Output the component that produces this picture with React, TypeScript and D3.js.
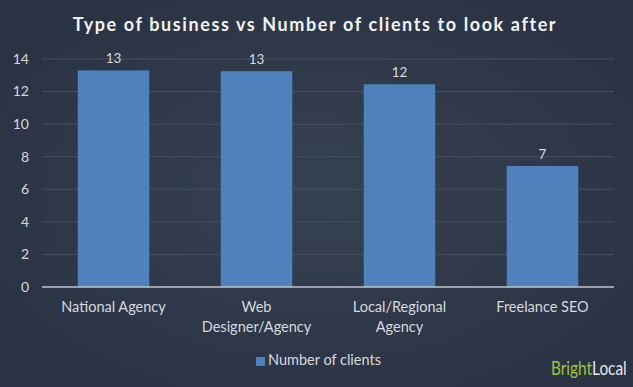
import React from 'react'
import * as d3 from 'd3'

const categories = ['National Agency', 'Web Designer/Agency', 'Local/Regional Agency', 'Freelance SEO']
const categoryLines = [['National Agency'], ['Web', 'Designer/Agency'], ['Local/Regional', 'Agency'], ['Freelance SEO']]
const clients = [13.3, 13.25, 12.45, 7.43]
const valueLabels = ['13', '13', '12', '7']
const yTicks = [0, 2, 4, 6, 8, 10, 12, 14]

const W = 633
const H = 387
const font = 'Lato, "Open Sans", sans-serif'
const textColor = '#d6d9de'

export default function App() {
  //比例尺
  const x = d3.scaleBand().domain(categories).range([42, 614]).paddingInner(0.5).paddingOuter(0.25)
  const y = d3.scaleLinear().domain([0, 14]).range([287, 59])

  return (
    <svg width={W} height={H} style={{ position: 'absolute', left: 0, top: 0 }} fontFamily={font}>
      <defs>
        <radialGradient id="bg" cx="0.5" cy="0.5" r="0.6">
          <stop offset="0" stopColor="#364152" />
          <stop offset="1" stopColor="#2a3343" />
        </radialGradient>
      </defs>
      <rect width={W} height={H} fill="url(#bg)" />

      {/* 标题 */}
      <text x={315} y={31} textAnchor="middle" fill="#f2f2f2" fontSize={18} fontWeight="bold" letterSpacing={1.6}>
        Type of business vs Number of clients to look after
      </text>

      {/* 网格 + y轴 */}
      {yTicks.map(t => (
        <g key={t}>
          {t > 0 && <line x1={42} x2={614} y1={y(t)} y2={y(t)} stroke="#47505e" strokeWidth={1} />}
          <text x={29} y={y(t)} dy="0.35em" textAnchor="end" fill={textColor} fontSize={14}>{t}</text>
        </g>
      ))}

      {/* 柱子 */}
      {categories.map((c, i) => (
        <g key={c}>
          <rect x={x(c)} y={y(clients[i])} width={x.bandwidth()} height={y(0) - y(clients[i])} fill="#4f81bd" />
          <text x={x(c)! + x.bandwidth() / 2} y={y(clients[i]) - 7} textAnchor="middle" fill={textColor} fontSize={13.5}>
            {valueLabels[i]}
          </text>
          {categoryLines[i].map((ln, j) => (
            <text key={j} x={x(c)! + x.bandwidth() / 2} y={312 + j * 20} textAnchor="middle" fill={textColor} fontSize={14.5}>
              {ln}
            </text>
          ))}
        </g>
      ))}

      {/* x轴线 */}
      <line x1={42} x2={614} y1={y(0)} y2={y(0)} stroke="#c0c4ca" strokeWidth={1.5} />

      {/* 图例 */}
      <rect x={256} y={357} width={9} height={9} fill="#4f81bd" />
      <text x={268} y={365} fill={textColor} fontSize={14.5}>Number of clients</text>

      {/* 标志 */}
      <g transform="translate(551,375) scale(0.77,1)">
        <text x={0} y={0} fontSize={20}>
          <tspan fill="#9bc53d">Bright</tspan>
          <tspan fill="#e8e8e8">Local</tspan>
        </text>
      </g>
    </svg>
  )
}
